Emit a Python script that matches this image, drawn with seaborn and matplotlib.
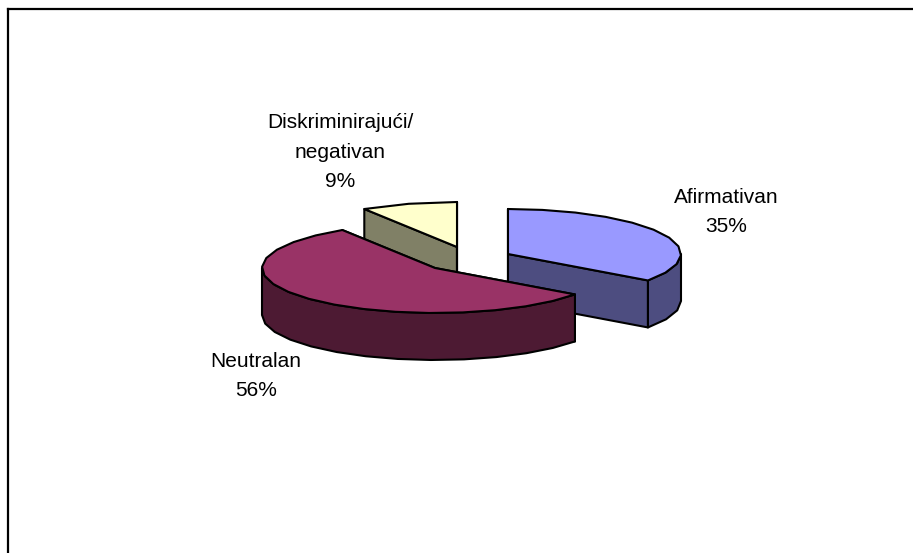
import numpy as np
import matplotlib
matplotlib.use('Agg')
import matplotlib.pyplot as plt
import seaborn as sns

labels = ['Afirmativan', 'Neutralan', 'Diskriminirajući/\nnegativan']
values = [35, 56, 9]
top_colors = ['#9999FF', '#993366', '#FFFFCC']
side_colors = ['#4D4D80', '#4D1A33', '#808066']

# apex of each exploded slice on the picture
apex_x = [508, 435, 457]
apex_y = [254, 268, 247]
label_x = [726, 256, 340]
label_y = [212, 376, 152]

rx = 173
ry = 45
depth = 47

sns.set_theme(style='white')
plt.rcParams['font.family'] = ['Liberation Sans', 'DejaVu Sans']

W, H = 913, 553
fig = plt.figure(figsize=(W / 100, H / 100), dpi=100)
ax = fig.add_axes([8 / W, 0, (W - 8) / W, (H - 9) / H])
ax.set_xlim(8, W)
ax.set_ylim(H, 9)
ax.set_xticks([])
ax.set_yticks([])
sns.despine(ax=ax, top=False, left=False, right=True, bottom=True)
for s in ['left', 'top']:
    ax.spines[s].set_color('black')
    ax.spines[s].set_linewidth(1.6)


def arc(cx, cy, a0, a1):
    # coarse steps so the rim looks faceted like the original
    n = max(int(abs(a1 - a0) / 11), 1)
    t = np.radians(np.linspace(a0, a1, n + 1))
    return cx + rx * np.sin(t), cy - ry * np.cos(t)


def draw_slice(cx, cy, a0, a1, top, side, z):
    style = dict(edgecolor='black', linewidth=1.5, joinstyle='round', zorder=z)
    # cut faces
    for a in [a0, a1]:
        x, y = arc(cx, cy, a, a)
        px = [cx, x[-1], x[-1], cx]
        py = [cy, y[-1], y[-1] + depth, cy + depth]
        ax.fill(px, py, facecolor=side, **style)
    # outer wall, only the part facing the viewer
    w0, w1 = max(a0, 90), min(a1, 270)
    if w1 > w0:
        x, y = arc(cx, cy, w0, w1)
        ax.fill(np.r_[x, x[::-1]], np.r_[y, y[::-1] + depth], facecolor=side, **style)
    # top
    x, y = arc(cx, cy, a0, a1)
    ax.fill(np.r_[cx, x], np.r_[cy, y], facecolor=top, **style)


shares = np.array(values) / sum(values) * 360
starts = np.r_[0, np.cumsum(shares)[:-1]]
for i in [2, 0, 1]:
    draw_slice(apex_x[i], apex_y[i], starts[i], starts[i] + shares[i],
               top_colors[i], side_colors[i], z=3 + [2, 0, 1].index(i))

for i in range(3):
    ax.text(label_x[i], label_y[i], f'{labels[i]}\n{values[i]}%', ha='center', va='center',
            fontsize=15, color='black', linespacing=1.72, zorder=10)

fig.savefig('out.png', dpi=100)
